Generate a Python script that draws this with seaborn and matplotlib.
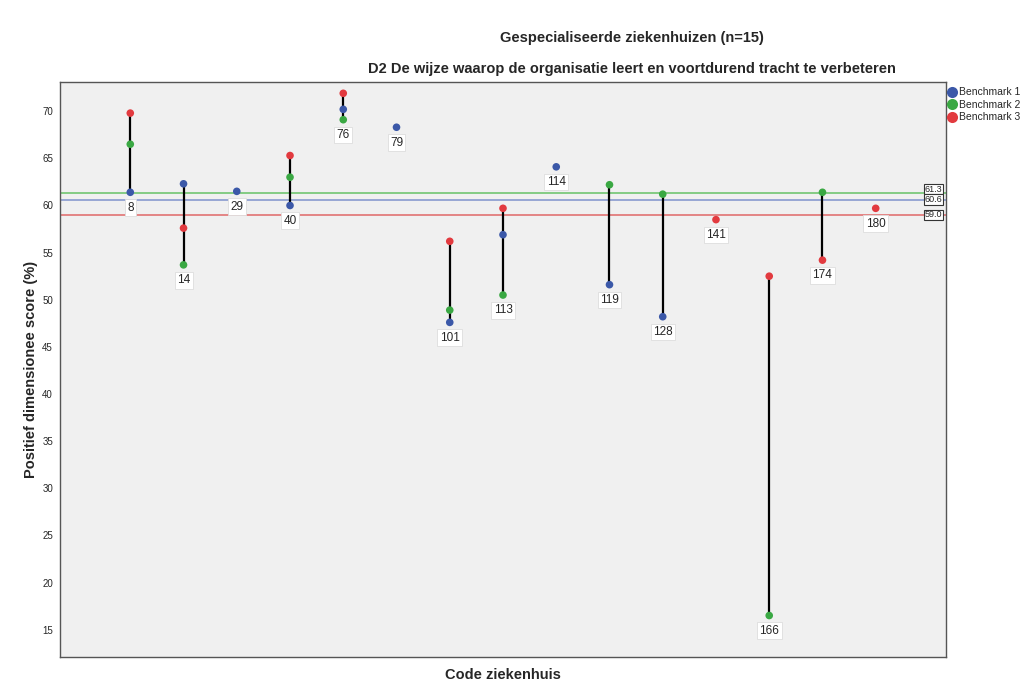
import numpy as np
import pandas as pd
import matplotlib
matplotlib.use("Agg")
import matplotlib.pyplot as plt
import seaborn as sns
from matplotlib.lines import Line2D

nan = np.nan
codes = ["8", "14", "29", "40", "76", "79", "101", "113", "114", "119", "128", "141", "166", "174", "180"]
bench1 = [61.4, 62.3, 61.5, 60.0, 70.2, 68.3, 47.6, 56.9, 64.1, 51.6, 48.2, nan, nan, nan, nan]
bench2 = [66.5, 53.7, nan, 63.0, 69.1, nan, 48.9, 50.5, nan, 62.2, 61.2, nan, 16.5, 61.4, nan]
bench3 = [69.8, 57.6, nan, 65.3, 71.9, nan, 56.2, 59.7, nan, nan, nan, 58.5, 52.5, 54.2, 59.7]
series_names = ["Benchmark 1", "Benchmark 2", "Benchmark 3"]
ref_values = [60.6, 61.3, 59.0]
yticks = [15, 20, 25, 30, 35, 40, 45, 50, 55, 60, 65, 70]

point_colors = ["#3b58a8", "#3aa843", "#e23a3f"]
line_colors = ["#7f93cc", "#66c266", "#e06868"]

sns.set_style("white")
plt.rcParams['font.family'] = ['Liberation Sans', 'DejaVu Sans']

rows = []
for i, c in enumerate(codes):
    for name, vals in zip(series_names, [bench1, bench2, bench3]):
        if not np.isnan(vals[i]):
            rows.append({"pos": i, "code": c, "series": name, "value": vals[i]})
df = pd.DataFrame(rows)

fig = plt.figure(figsize=(10.24, 6.96), dpi=100)
ax = fig.add_axes([60/1024, 1-657/696, (946-60)/1024, (657-82)/696])
ax.set_facecolor("#f0f0f0")

# vertical range lines
grp = df.groupby("pos")["value"]
mins, maxs = grp.min(), grp.max()
ax.vlines(mins.index, mins.values, maxs.values, color="black", lw=1.6, zorder=2)

# reference lines
for v, col in zip(ref_values, line_colors):
    ax.axhline(v, color=col, lw=1.1, zorder=1)

sns.scatterplot(data=df, x="pos", y="value", hue="series", hue_order=series_names,
                palette=point_colors, s=30, edgecolor="none", ax=ax, zorder=3, legend=False)

# labels below lowest point
for p, lo in mins.items():
    ax.annotate(codes[p], (p, lo), xytext=(0, -11), textcoords="offset points",
                ha="center", va="center", fontsize=8.5, zorder=4,
                bbox=dict(boxstyle="square,pad=0.2", fc="white", ec="#dddddd", lw=0.6))

# reference value labels at right edge
offsets = {60.6: 0, 61.3: 3, 59.0: 0}
for v in [61.3, 60.6, 59.0]:
    ax.annotate(f"{v:.1f}", (1.0, v), xycoords=("axes fraction", "data"),
                xytext=(-9, offsets[v]), textcoords="offset points",
                ha="center", va="center", fontsize=6.5, zorder=5,
                bbox=dict(boxstyle="square,pad=0.1", fc="white", ec="#333333", lw=0.8))

ax.set_xlim(-1.32, len(codes) - 1 + 1.32)
ax.set_ylim(12.1, 73.1)
ax.set_yticks(yticks)
ax.set_xticks([])
ax.tick_params(axis="y", direction="out", length=4, width=1, labelsize=7, color="#333333", pad=1)
for s in ax.spines.values():
    s.set_color("#555555")
    s.set_linewidth(1)

ax.set_ylabel("Positief dimensionee score (%)", fontsize=10.5, fontweight="bold", labelpad=3)
ax.set_xlabel("Code ziekenhuis", fontsize=10.5, fontweight="bold", labelpad=8)

fig.text(632/1024, 1-38/696, "Gespecialiseerde ziekenhuizen (n=15)", ha="center", va="center",
         fontsize=10.5, fontweight="bold")
fig.text(632/1024, 1-69/696, "D2 De wijze waarop de organisatie leert en voortdurend tracht te verbeteren",
         ha="center", va="center", fontsize=10.5, fontweight="bold")

# legend
handles = [Line2D([0], [0], marker="o", ls="", markersize=8, markerfacecolor=c, markeredgecolor="none")
           for c in point_colors]
fig.legend(handles, series_names, loc="upper left", bbox_to_anchor=(942/1024, 1-82/696),
           frameon=False, fontsize=7.5, handletextpad=0.1, borderpad=0, labelspacing=0.25,
           handlelength=1.0)

fig.savefig("out.png", dpi=100)
